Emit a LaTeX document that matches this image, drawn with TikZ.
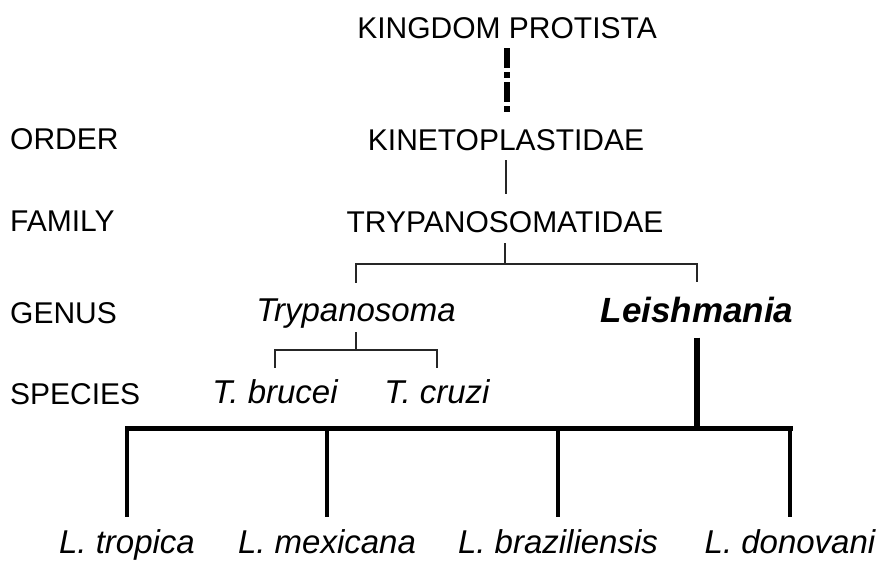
\documentclass[tikz,border=0pt]{standalone}
\usepackage{fontspec}
\setmainfont{Liberation Sans}
\usepackage{tikz}
\usetikzlibrary{positioning}
\tikzset{
rank/.style = { anchor = base west, inner sep = 0pt, font = \fontsize{30}{36}\selectfont },
taxon/.style = { anchor = base, inner sep = 0pt, font = \fontsize{30}{36}\selectfont },
genus/.style = { anchor = base, inner sep = 0pt, font = \fontsize{33}{40}\selectfont\itshape },
species/.style = { anchor = base, inner sep = 0pt, font = \fontsize{33}{40}\selectfont\itshape },
thin link/.style = { draw = black!85, line width = 2.6pt },
dotted link/.style = { draw = black, line width = 6pt, dash pattern = on 20pt off 4pt on 6pt off 4pt },
main link/.style = { draw = black, line width = 6pt },
bar/.style = { draw = black, line width = 5pt, line cap = rect },
leg/.style = { draw = black, line width = 4pt },
}
\begin{document}
\begin{tikzpicture}[x = 1pt, y = -1pt]
    \useasboundingbox (0, 0) rectangle (883, 560);
    \node[rank] (order) at (10, 149) {ORDER};
    \node[rank] (family) at (10, 231) {FAMILY};
    \node[rank] (genusrank) at (10, 323) {GENUS};
    \node[rank] (speciesrank) at (10, 404) {SPECIES};
    \node[taxon] (kingdom) at (507, 38) {KINGDOM PROTISTA};
    \node[taxon] (kineto) at (506, 150) {KINETOPLASTIDAE};
    \node[taxon] (trypfam) at (505, 232) {TRYPANOSOMATIDAE};
    \node[genus] (tryp) at (356, 321) {Trypanosoma};
    \node[genus, font = \fontsize{35}{42}\selectfont\bfseries\itshape] (leish) at (697, 322) {Leishmania};
    \node[species] (brucei) at (275, 403) {T. brucei};
    \node[species] (cruzi) at (437, 403) {T. cruzi};
    \node[species] (tropica) at (127, 553) {L. tropica};
    \node[species] (mexicana) at (327, 553) {L. mexicana};
    \node[species] (braziliensis) at (558, 553) {L. braziliensis};
    \node[species] (donovani) at (790, 553) {L. donovani};
    \coordinate (famjoin) at (505, 264);
    \coordinate (trypjoin) at (356, 350);
    \coordinate (leishjoin) at (697, 428);
    \draw[dotted link, shorten <= 10pt, shorten >= 15pt] (kingdom.south) -- (kingdom.south |- kineto.north);
    \draw[thin link, shorten <= 10pt, shorten >= 17pt] (kineto.south) -- (kineto.south |- trypfam.north);
    \draw[thin link, shorten <= 11pt] (trypfam.south) -- (famjoin);
    \draw[thin link, shorten >= 15pt] (famjoin) -| (tryp.north);
    \draw[thin link, shorten >= 14pt] (famjoin) -| (leish.north);
    \draw[thin link, shorten <= 4pt] (tryp.south) -- (trypjoin);
    \draw[thin link, shorten >= 11pt] (trypjoin) -| (brucei.north);
    \draw[thin link, shorten >= 11pt] (trypjoin) -| (cruzi.north);
    \draw[main link, shorten <= 15pt] (leish.south) -- (leishjoin);
    \draw[bar] (tropica.north |- leishjoin) -- (donovani.north |- leishjoin);
    \foreach \sp in {tropica, mexicana, braziliensis, donovani}
        \draw[leg, shorten >= 12pt] (\sp.north |- leishjoin) -- (\sp.north);
\end{tikzpicture}
\end{document}
